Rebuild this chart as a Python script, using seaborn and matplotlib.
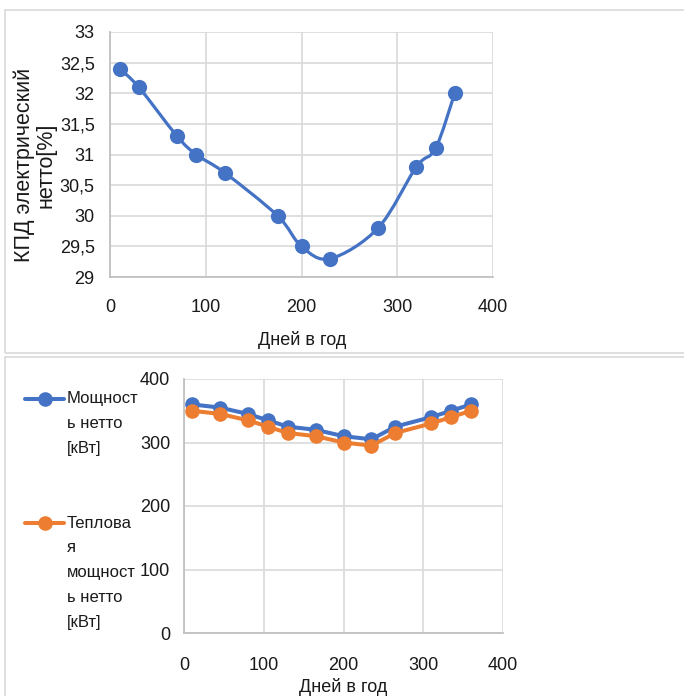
import numpy as np
import pandas as pd
import matplotlib
matplotlib.use("Agg")
import matplotlib.pyplot as plt
from matplotlib.path import Path
from matplotlib.patches import PathPatch, Rectangle
from matplotlib.lines import Line2D
import seaborn as sns

# ---- data ----
days_top = [10, 30, 70, 90, 120, 175, 200, 230, 280, 320, 340, 360]
eff_top = [32.4, 32.1, 31.3, 31.0, 30.7, 30.0, 29.5, 29.3, 29.8, 30.8, 31.1, 32.0]

days_bot = [10, 45, 80, 105, 130, 165, 200, 235, 265, 310, 335, 360]
power_net = [360, 355, 345, 335, 325, 320, 310, 305, 325, 340, 350, 360]
heat_net = [350, 345, 335, 325, 315, 310, 300, 295, 315, 330, 340, 350]

series_names = ["Мощност\nь нетто\n[кВт]", "Теплова\nя\nмощност\nь нетто\n[кВт]"]
xlabel = "Дней в год"
ylabel_top = ["КПД электрический", "нетто[%]"]

BLUE = "#4472C4"
ORANGE = "#ED7D31"
GRID = "#D9D9D9"
TXT = "#1a1a1a"
FS = 13

sns.set_theme(style="white")
plt.rcParams['font.family'] = ['Liberation Sans', 'DejaVu Sans']

W, H = 684, 696
fig = plt.figure(figsize=(W / 100, H / 100), dpi=100)

def ax_px(l, t, r, b):
    return fig.add_axes([l / W, 1 - b / H, (r - l) / W, (b - t) / H])

def fx(x):
    return x / W

def fy(y):
    return 1 - y / H

# panel borders
fig.patches.append(Rectangle((fx(5), fy(353)), 700 / W, (353 - 10) / H,
                             transform=fig.transFigure, fill=False,
                             edgecolor=GRID, lw=1.2))
fig.patches.append(Rectangle((fx(5), fy(720)), 700 / W, (720 - 357) / H,
                             transform=fig.transFigure, fill=False,
                             edgecolor=GRID, lw=1.2))

def style_ax(ax, xpad, ypad):
    ax.grid(True, color=GRID, lw=1.2)
    ax.set_axisbelow(True)
    for s in ax.spines.values():
        s.set_visible(False)
    ax.spines['left'].set_visible(True)
    ax.spines['bottom'].set_visible(True)
    ax.spines['left'].set_color("#BFBFBF")
    ax.spines['bottom'].set_color("#BFBFBF")
    ax.tick_params(length=0, labelsize=FS, colors=TXT)
    ax.tick_params(axis='x', pad=xpad)
    ax.tick_params(axis='y', pad=ypad)
    ax.set_xlabel("")
    ax.set_ylabel("")

# ---- top chart ----
ax1 = ax_px(110, 32, 493, 277)
df_top = pd.DataFrame({"x": days_top, "y": eff_top})
# smooth (Catmull-Rom) path through the data points
P = np.column_stack([days_top, eff_top]).astype(float)
verts = [P[0]]
codes = [Path.MOVETO]
n = len(P)
for i in range(n - 1):
    p0 = P[i - 1] if i > 0 else P[i]
    p1, p2 = P[i], P[i + 1]
    p3 = P[i + 2] if i + 2 < n else P[i + 1]
    c1 = p1 + (p2 - p0) / 6
    c2 = p2 - (p3 - p1) / 6
    verts += [c1, c2, p2]
    codes += [Path.CURVE4] * 3
ax1.add_patch(PathPatch(Path(verts, codes), fill=False, edgecolor=BLUE, lw=2.3,
                        capstyle='round', joinstyle='round', zorder=2))
sns.scatterplot(data=df_top, x="x", y="y", ax=ax1, color=BLUE, s=120,
                edgecolor=BLUE, linewidth=0, zorder=3, legend=False)
ax1.set_xlim(0, 400)
ax1.set_ylim(29, 33)
ax1.set_xticks([0, 100, 200, 300, 400])
yt = np.arange(29, 33.01, 0.5)
ax1.set_yticks(yt)
ax1.set_yticklabels([("%g" % v).replace(".", ",") for v in yt])
style_ax(ax1, xpad=16, ypad=11)
fig.text(fx(302), fy(340), xlabel, fontsize=FS, color=TXT, ha="center", va="center")
fig.text(fx(24), fy(165), ylabel_top[0], fontsize=15.5, color=TXT,
         ha="center", va="center", rotation=90)
fig.text(fx(46), fy(165), ylabel_top[1], fontsize=15.5, color=TXT,
         ha="center", va="center", rotation=90)

# ---- bottom chart ----
ax2 = ax_px(184, 379, 503, 633)
df_bot = pd.DataFrame({
    "x": days_bot * 2,
    "y": power_net + heat_net,
    "s": ["power"] * len(days_bot) + ["heat"] * len(days_bot),
})
sns.lineplot(data=df_bot, x="x", y="y", hue="s", palette=[BLUE, ORANGE],
             marker="o", markersize=10.5, markeredgewidth=0, lw=2.9, ax=ax2,
             legend=False, sort=False)
ax2.set_xlim(0, 400)
ax2.set_ylim(0, 400)
ax2.set_xticks([0, 100, 200, 300, 400])
ax2.set_yticks([0, 100, 200, 300, 400])
style_ax(ax2, xpad=17, ypad=10)
fig.text(fx(343), fy(687), xlabel, fontsize=FS, color=TXT, ha="center", va="center")

# legend (manual, in figure pixel coords)
for name, col, y0 in [(series_names[0], BLUE, 399), (series_names[1], ORANGE, 523)]:
    fig.add_artist(Line2D([fx(25), fx(64)], [fy(y0), fy(y0)], color=col,
                          lw=2.9, transform=fig.transFigure))
    fig.add_artist(Line2D([fx(44.5)], [fy(y0)], color=col, marker="o",
                          markersize=10.5, markeredgewidth=0,
                          transform=fig.transFigure))
    for k, line in enumerate(name.split("\n")):
        fig.text(fx(67), fy(y0 + 25 * k), line, fontsize=12, color=TXT,
                 va="center", ha="left")

fig.savefig("out.png", dpi=100)
